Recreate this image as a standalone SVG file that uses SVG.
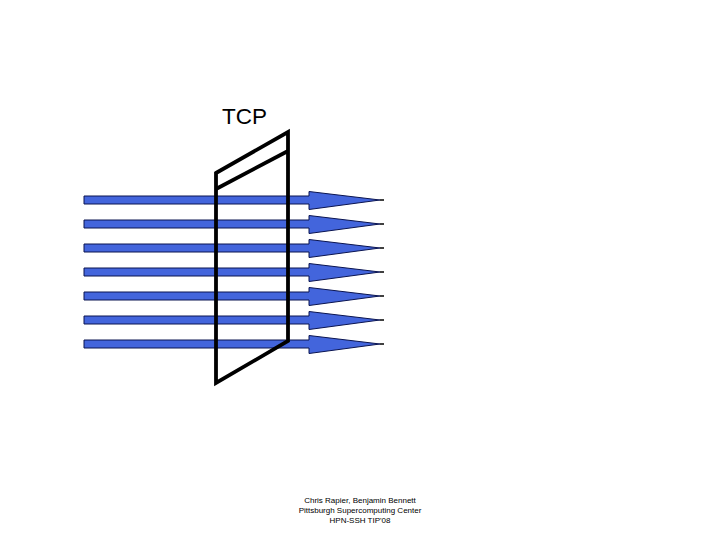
<svg xmlns="http://www.w3.org/2000/svg" width="720" height="540" viewBox="0 0 720 540">
<defs>
<style>
.arr{fill:#4365dc;stroke:#0a1450;stroke-width:1}
.tail{stroke:#000;stroke-width:1.5}
.frame{fill:none;stroke:#000;stroke-width:3.8;stroke-linejoin:miter}
.t{font-family:"Liberation Sans",Arial,sans-serif;fill:#000}
</style>
<path id="a" class="arr" d="M84,196 H309 V191.5 L380,200 L309,209.5 V204 H84 Z"/>
</defs>
<rect width="720" height="540" fill="#fff"/>
<g id="connectors">
<g id="arrow1"><use href="#a"/><line class="tail" x1="380" y1="200" x2="384" y2="200"/></g>
<g id="arrow2" transform="translate(0,24)"><use href="#a"/><line class="tail" x1="380" y1="200" x2="384" y2="200"/></g>
<g id="arrow3" transform="translate(0,48)"><use href="#a"/><line class="tail" x1="380" y1="200" x2="384" y2="200"/></g>
<g id="arrow4" transform="translate(0,72)"><use href="#a"/><line class="tail" x1="380" y1="200" x2="384" y2="200"/></g>
<g id="arrow5" transform="translate(0,96)"><use href="#a"/><line class="tail" x1="380" y1="200" x2="384" y2="200"/></g>
<g id="arrow6" transform="translate(0,120)"><use href="#a"/><line class="tail" x1="380" y1="200" x2="384" y2="200"/></g>
<g id="arrow7" transform="translate(0,144)"><use href="#a"/><line class="tail" x1="380" y1="200" x2="384" y2="200"/></g>
</g>
<g id="tcp">
<path class="frame" d="M216,173 L288,132 L288,341 L216,383 Z"/>
<line class="frame" x1="216" y1="189" x2="288" y2="151"/>
<text class="t" x="222" y="124" font-size="22.5">TCP</text>
</g>
<g id="footer" class="t" font-size="8" text-anchor="middle">
<text x="360" y="503">Chris Rapier, Benjamin Bennett</text>
<text x="360" y="513">Pittsburgh Supercomputing Center</text>
<text x="360" y="523">HPN-SSH TIP'08</text>
</g>
</svg>
